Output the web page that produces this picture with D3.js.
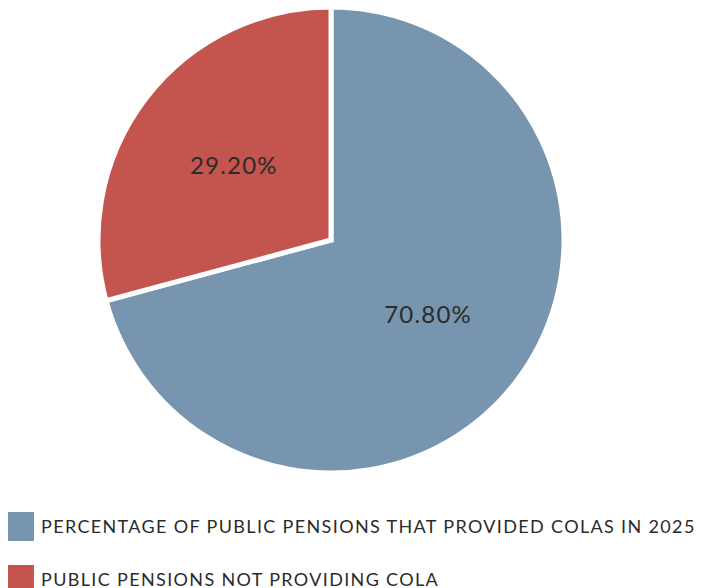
<!DOCTYPE html>
<html>
<head>
<meta charset="utf-8">
<script src="https://cdn.jsdelivr.net/npm/d3@7"></script>
<style>
  body { margin: 0; background: #fff; }
  svg text { font-family: Lato, "Open Sans", sans-serif; }
</style>
</head>
<body>
<div id="chart"></div>
<script>
// data
const labels = ['PERCENTAGE OF PUBLIC PENSIONS THAT PROVIDED COLAS IN 2025', 'PUBLIC PENSIONS NOT PROVIDING COLA'];
const values = [70.8, 29.2];
const colors = ['#7795ae', '#c4544e'];

function drawPieChart(container) {
    const w = 704;
    const h = 588;
    const r = 233;
    const cx = 331, cy = 240;

    const svg = d3.select(container)
        .append('svg')
        .attr('width', w)
        .attr('height', h);

    const g = svg.append('g')
        .attr('transform', `translate(${cx},${cy})`);

    const arc = d3.arc()
        .innerRadius(0)
        .outerRadius(r);

    // labels sit a little past half the radius
    const labelArc = d3.arc()
        .innerRadius(0)
        .outerRadius(r * 1.05);

    const pie = d3.pie()
        .value(d => d)
        .sort(null);

    const arcs = g.selectAll('g.slice')
        .data(pie(values))
        .enter()
        .append('g')
        .attr('class', 'slice');

    arcs.append('path')
        .attr('d', arc)
        .attr('fill', (d, i) => colors[i])
        .attr('stroke', '#fff')
        .attr('stroke-width', 5)
        .attr('stroke-linejoin', 'miter');

    arcs.append('text')
        .attr('transform', d => `translate(${labelArc.centroid(d)})`)
        .attr('text-anchor', 'middle')
        .attr('dy', '0.35em')
        .attr('fill', '#2b2b2b')
        .style('font-size', '24px')
        .style('letter-spacing', '1.2px')
        .text(d => d.value.toFixed(2) + '%');

    // legend
    const legend = svg.append('g')
        .attr('transform', 'translate(8,512)');

    labels.forEach((label, i) => {
        const row = legend.append('g')
            .attr('transform', `translate(0,${i * 53})`);
        row.append('rect')
            .attr('width', 26)
            .attr('height', 29)
            .attr('fill', colors[i]);
        row.append('text')
            .attr('x', 33)
            .attr('y', 21)
            .attr('fill', '#2b2b2b')
            .style('font-size', '18px')
            .style('letter-spacing', '1.35px')
            .text(label);
    });
}

drawPieChart('#chart');
</script>
</body>
</html>
